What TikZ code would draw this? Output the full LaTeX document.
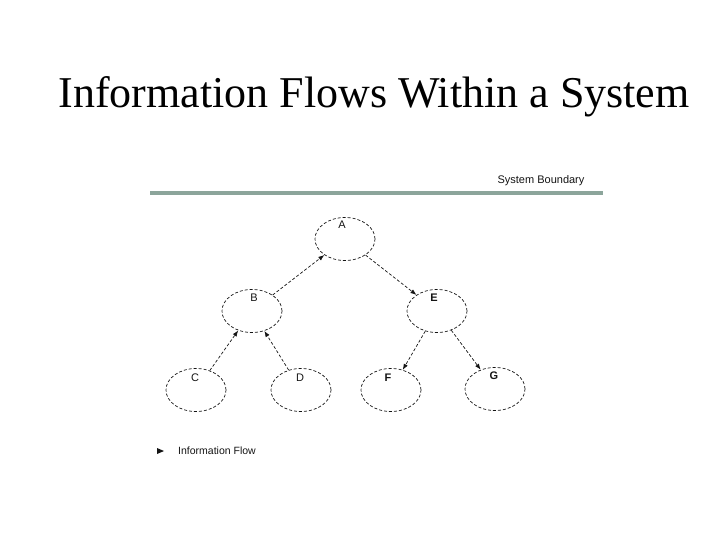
\documentclass[tikz,border=0pt]{standalone}
\usepackage{fontspec}
\setmainfont{Liberation Serif}
\setsansfont{Liberation Sans}
\usetikzlibrary{shapes.geometric,arrows.meta}
\definecolor{bound}{RGB}{140,165,155}
\definecolor{ink}{RGB}{20,20,20}
\begin{document}
\begin{tikzpicture}[x=1pt,y=-1pt,
  proc/.style={draw=ink,ellipse,densely dashed,line width=0.7pt,minimum width=60pt,minimum height=43pt,inner sep=0pt},
  lbl/.style={font=\sffamily\fontsize{11}{13}\selectfont,text=ink,inner sep=0pt},
  blbl/.style={lbl,font=\sffamily\bfseries\fontsize{11}{13}\selectfont},
  flow/.style={draw=ink,densely dashed,line width=0.7pt,-{Latex[length=6pt,width=4.5pt]}}]
\useasboundingbox (0,0) rectangle (720,540);
\node[font=\fontsize{44}{50}\selectfont,inner sep=0pt] (title) at (374,97) {Information Flows Within a System};
\draw[bound,line width=4pt] (150,193) -- (603,193);
\node[font=\sffamily\fontsize{11}{13}\selectfont,text=ink,inner sep=0pt] (sb) at (541,181) {System Boundary};
\node[proc] (A) at (345,239) {};
\node[proc] (B) at (252,311) {};
\node[proc] (E) at (437,311) {};
\node[proc] (C) at (196,390) {};
\node[proc] (D) at (301,390) {};
\node[proc] (F) at (391,390) {};
\node[proc] (G) at (495,389) {};
\node[lbl] (lA) at (342,225) {A};
\node[lbl] (lB) at (254,298) {B};
\node[blbl] (lE) at (434,298) {E};
\node[lbl] (lC) at (195,378) {C};
\node[lbl] (lD) at (300,378) {D};
\node[blbl] (lF) at (388,378) {F};
\node[blbl] (lG) at (494,376) {G};
\draw[flow] (B) -- (A);
\draw[flow] (A) -- (E);
\draw[flow] (C) -- (B);
\draw[flow] (D) -- (B);
\draw[flow] (E) -- (F);
\draw[flow] (E) -- (G);
\fill[ink] (157,448) -- (164,451) -- (157,454) -- cycle;
\node[font=\sffamily\fontsize{10.5}{12}\selectfont,text=ink,inner sep=0pt,anchor=west] (leg) at (178,451) {Information Flow};
\end{tikzpicture}
\end{document}
